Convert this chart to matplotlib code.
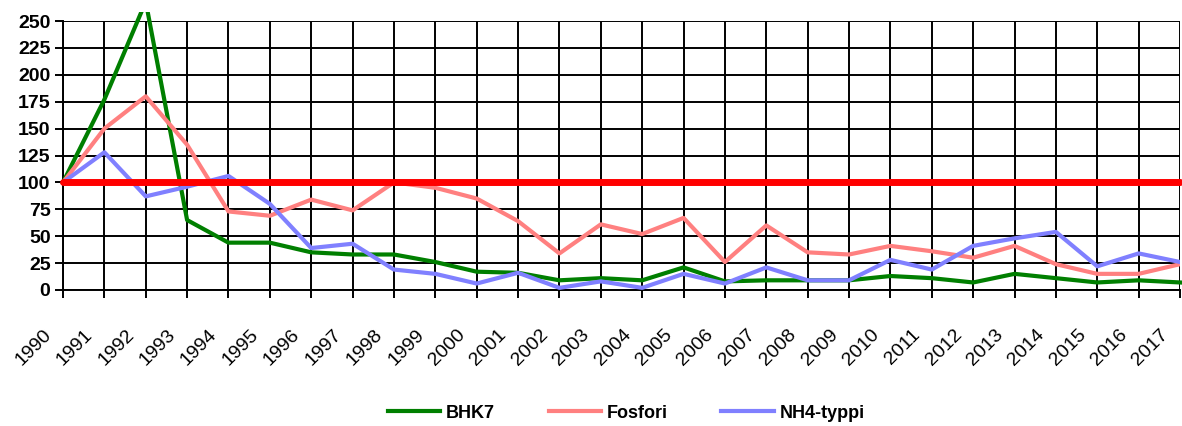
import matplotlib.pyplot as plt
import matplotlib.patches as mpatches
import matplotlib.transforms as mtransforms

# Data
years = [str(y) for y in range(1990, 2018)]
bhk7 = [100, 177, 268, 65, 44, 44, 35, 33, 33, 26, 17, 16, 9, 11, 9, 21, 8, 9,
        9, 9, 13, 11, 7, 15, 11, 7, 9, 7]
fosfori = [100, 150, 180, 135, 73, 69, 84, 74, 100, 95, 85, 64, 34, 61, 52, 67,
           26, 60, 35, 33, 41, 36, 30, 41, 24, 15, 15, 24]
nh4 = [100, 128, 87, 96, 106, 80, 39, 43, 19, 15, 6, 16, 2, 8, 2, 15, 6, 21,
       9, 9, 28, 19, 41, 48, 54, 22, 34, 26]
ref_level = 100
yticks = list(range(0, 251, 25))

plt.rcParams['font.family'] = ['Liberation Sans', 'DejaVu Sans']

fig = plt.figure(figsize=(11.82, 4.26), dpi=100)
ax = fig.add_axes([63 / 1182, 1 - 290 / 426, (1180 - 63) / 1182, (290 - 21) / 426])

x = list(range(len(years)))

# Series
l1, = ax.plot(x, bhk7, color='#007f00', lw=3, label='BHK7', zorder=3)
l2, = ax.plot(x, fosfori, color='#ff8080', lw=3, label='Fosfori', zorder=3)
l3, = ax.plot(x, nh4, color='#8080ff', lw=3, label='NH4-typpi', zorder=3)
ax.plot(x, [ref_level] * len(x), color='#ff0000', lw=5, solid_capstyle='round',
        zorder=4, clip_on=False)

# green line goes a bit above the top gridline before being cut
clip = mpatches.Rectangle((-1, -10), len(x) + 2, 268, transform=ax.transData)
l1.set_clip_path(clip)

ax.set_xlim(0, len(x) - 1)
ax.set_ylim(0, 250)
ax.set_xticks(x)
ax.set_xticklabels(years, rotation=45, ha='right', fontsize=14)
ax.set_yticks(yticks)
ax.set_yticklabels([str(v) for v in yticks], fontsize=14, fontweight='bold')

ax.grid(True, color='black', lw=1.4, zorder=1)
ax.set_axisbelow(True)
ax.tick_params(axis='both', direction='out', length=6, width=1.4, color='black')
ax.tick_params(axis='x', pad=20)
ax.tick_params(axis='y', pad=3)
for s in ['top', 'right']:
    ax.spines[s].set_visible(False)
for s in ['left', 'bottom']:
    ax.spines[s].set_linewidth(1.4)

# shift the year labels a bit to the left
offset = mtransforms.ScaledTranslation(-8 / 100, 0, fig.dpi_scale_trans)
for lab in ax.get_xticklabels():
    lab.set_transform(lab.get_transform() + offset)

fig.legend(handles=[l1, l2, l3], loc='center', bbox_to_anchor=(626 / 1182, 1 - 413 / 426),
           ncol=3, frameon=False, handlelength=2.9, handletextpad=0.3,
           columnspacing=3.0, prop={'size': 13, 'weight': 'bold'})

fig.savefig('out.png', dpi=100)
